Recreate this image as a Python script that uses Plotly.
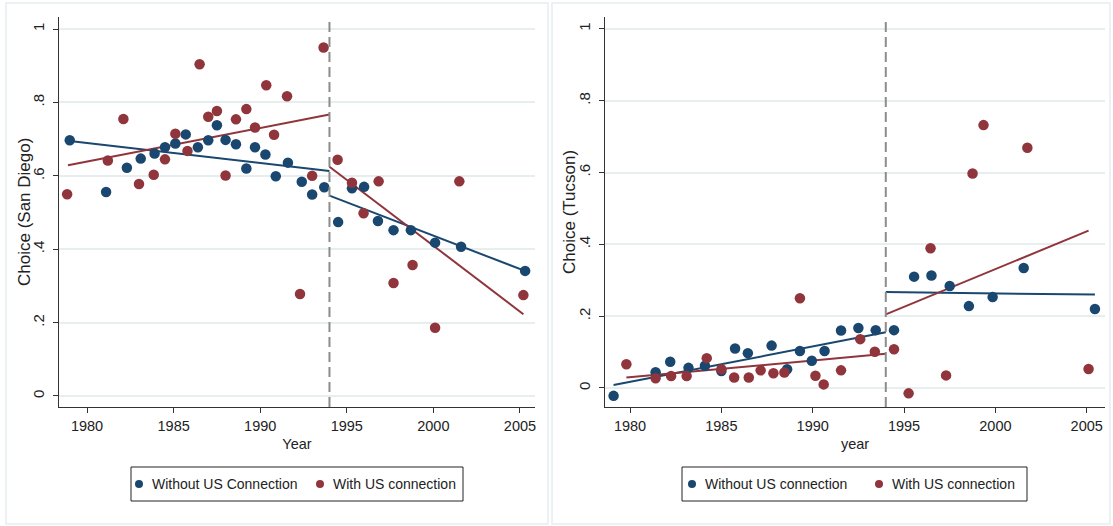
import plotly.graph_objects as go

W, H = 1113, 526
BLUE = "#1a476f"
RED = "#90353b"
GRID = "#e6eef0"

# ---------------- San Diego panel ----------------
sd_blue_year = [1979.0, 1981.1, 1982.3, 1983.1, 1983.9, 1984.5, 1985.1, 1985.7, 1986.4, 1987.0,
                1987.5, 1988.0, 1988.6, 1989.2, 1989.7, 1990.3, 1990.9, 1991.6, 1992.4, 1993.0,
                1993.7, 1994.5, 1995.3, 1996.0, 1996.8, 1997.7, 1998.7, 2000.1, 2001.6, 2005.3]
sd_blue_val = [0.697, 0.556, 0.622, 0.647, 0.661, 0.678, 0.688, 0.713, 0.678, 0.697,
               0.738, 0.698, 0.686, 0.620, 0.678, 0.658, 0.599, 0.636, 0.584, 0.549,
               0.569, 0.474, 0.566, 0.570, 0.477, 0.452, 0.452, 0.418, 0.407, 0.341]
sd_red_year = [1978.85, 1981.2, 1982.1, 1983.0, 1983.85, 1984.5, 1985.1, 1985.8, 1986.5, 1987.0,
               1987.5, 1988.0, 1988.6, 1989.2, 1989.7, 1990.35, 1990.8, 1991.55, 1992.3, 1993.0,
               1993.66, 1994.47, 1995.3, 1995.97, 1996.84, 1997.7, 1998.8, 2000.1, 2001.5, 2005.2]
sd_red_val = [0.550, 0.642, 0.755, 0.578, 0.603, 0.645, 0.715, 0.668, 0.904, 0.761,
              0.777, 0.601, 0.754, 0.782, 0.732, 0.847, 0.712, 0.817, 0.278, 0.600,
              0.950, 0.644, 0.581, 0.498, 0.585, 0.308, 0.357, 0.186, 0.585, 0.275]
# fitted line endpoints
sd_fit_blue_pre_x = [1979.0, 1994.0]
sd_fit_blue_pre_y = [0.695, 0.613]
sd_fit_red_pre_x = [1978.9, 1994.0]
sd_fit_red_pre_y = [0.629, 0.767]
sd_fit_blue_post_x = [1994.0, 2005.4]
sd_fit_blue_post_y = [0.546, 0.339]
sd_fit_red_post_x = [1994.0, 2005.2]
sd_fit_red_post_y = [0.625, 0.223]

# ---------------- Tucson panel ----------------
tu_blue_year = [1979.1, 1981.4, 1982.2, 1983.2, 1984.1, 1985.0, 1985.75, 1986.45, 1987.75, 1988.6,
                1989.3, 1989.95, 1990.65, 1991.55, 1992.5, 1993.45, 1994.45, 1995.55, 1996.5, 1997.5,
                1998.55, 1999.85, 2001.55, 2005.45]
tu_blue_val = [-0.022, 0.044, 0.073, 0.056, 0.062, 0.047, 0.110, 0.097, 0.118, 0.052,
               0.103, 0.076, 0.103, 0.160, 0.167, 0.161, 0.161, 0.310, 0.313, 0.284,
               0.228, 0.253, 0.334, 0.220]
tu_red_year = [1979.8, 1981.4, 1982.25, 1983.1, 1984.2, 1985.0, 1985.7, 1986.5, 1987.15, 1987.85,
               1988.45, 1989.3, 1990.15, 1990.6, 1991.55, 1992.6, 1993.4, 1994.45, 1995.25, 1996.45,
               1997.3, 1998.75, 1999.35, 2001.75, 2005.1]
tu_red_val = [0.066, 0.027, 0.033, 0.033, 0.083, 0.052, 0.029, 0.029, 0.049, 0.041,
              0.043, 0.250, 0.034, 0.010, 0.049, 0.136, 0.101, 0.108, -0.015, 0.389,
              0.035, 0.597, 0.732, 0.669, 0.053]
tu_fit_blue_pre_x = [1979.1, 1994.0]
tu_fit_blue_pre_y = [0.008, 0.155]
tu_fit_red_pre_x = [1979.8, 1994.0]
tu_fit_red_pre_y = [0.029, 0.095]
tu_fit_blue_post_x = [1994.0, 2005.45]
tu_fit_blue_post_y = [0.267, 0.260]
tu_fit_red_post_x = [1994.0, 2005.1]
tu_fit_red_post_y = [0.205, 0.438]

cutoff_year = 1994
y_ticks = [0, 0.2, 0.4, 0.6, 0.8, 1]
y_tick_labels = ["0", ".2", ".4", ".6", ".8", "1"]
x_ticks = [1980, 1985, 1990, 1995, 2000, 2005]
sd_legend_names = ["Without US Connection", "With US connection"]
tu_legend_names = ["Without US connection", "With US connection"]

fig = go.Figure()

def add_panel(xa, ya, bx, bv, rx, rv, fits, names):
    sfx_x = "x" if xa == 1 else "x%d" % xa
    sfx_y = "y" if ya == 1 else "y%d" % ya
    for fx, fy, col in fits:
        fig.add_trace(go.Scatter(x=fx, y=fy, mode="lines", line=dict(color=col, width=2),
                                 showlegend=False, xaxis=sfx_x, yaxis=sfx_y, hoverinfo="skip"))
    fig.add_trace(go.Scatter(x=bx, y=bv, mode="markers", name=names[0], showlegend=False,
                             marker=dict(color=BLUE, size=10.5), xaxis=sfx_x, yaxis=sfx_y))
    fig.add_trace(go.Scatter(x=rx, y=rv, mode="markers", name=names[1], showlegend=False,
                             marker=dict(color=RED, size=10.5), xaxis=sfx_x, yaxis=sfx_y))

add_panel(1, 1, sd_blue_year, sd_blue_val, sd_red_year, sd_red_val,
          [(sd_fit_blue_pre_x, sd_fit_blue_pre_y, BLUE), (sd_fit_red_pre_x, sd_fit_red_pre_y, RED),
           (sd_fit_blue_post_x, sd_fit_blue_post_y, BLUE), (sd_fit_red_post_x, sd_fit_red_post_y, RED)],
          sd_legend_names)
add_panel(2, 2, tu_blue_year, tu_blue_val, tu_red_year, tu_red_val,
          [(tu_fit_blue_pre_x, tu_fit_blue_pre_y, BLUE), (tu_fit_red_pre_x, tu_fit_red_pre_y, RED),
           (tu_fit_blue_post_x, tu_fit_blue_post_y, BLUE), (tu_fit_red_post_x, tu_fit_red_post_y, RED)],
          tu_legend_names)

def px_x(p):
    return p / W

def px_y(p):
    return 1 - p / H

font = dict(family="Liberation Sans, Arial, sans-serif", color="#222222")

common_x = dict(tickmode="array", tickvals=x_ticks, ticks="outside", ticklen=5, tickcolor="#333",
                showline=True, linecolor="#333", linewidth=1.3, showgrid=False, zeroline=False,
                tickfont=dict(size=14.5, color="#222"), automargin=False)
common_y = dict(tickmode="array", tickvals=y_ticks, ticktext=y_tick_labels, ticks="outside",
                ticklen=5, tickcolor="#333", tickangle=-90, showline=True, linecolor="#333",
                linewidth=1.3, showgrid=True, gridcolor=GRID, gridwidth=1.5, zeroline=False,
                tickfont=dict(size=15, color="#222"), ticklabelstandoff=3, automargin=False)

shapes = [
    dict(type="rect", xref="paper", yref="paper", x0=px_x(6), x1=px_x(548), y0=px_y(524), y1=px_y(3),
         line=dict(color="#e6eef0", width=1.5), layer="below"),
    dict(type="rect", xref="paper", yref="paper", x0=px_x(552), x1=px_x(1110), y0=px_y(524), y1=px_y(3),
         line=dict(color="#e6eef0", width=1.5), layer="below"),
    dict(type="line", xref="x", yref="paper", x0=cutoff_year, x1=cutoff_year,
         y0=px_y(407), y1=px_y(17), line=dict(color="#8c8c8c", width=2, dash="10px,5px")),
    dict(type="line", xref="x2", yref="paper", x0=cutoff_year, x1=cutoff_year,
         y0=px_y(407), y1=px_y(17), line=dict(color="#8c8c8c", width=2, dash="10px,5px")),
]
annotations = []

# legend boxes (drawn by hand to match the Stata layout)
def add_legend(box_l, box_r, m1, m2, names):
    top, bot, mid = 467, 501, 484
    shapes.append(dict(type="rect", xref="paper", yref="paper", x0=px_x(box_l), x1=px_x(box_r),
                       y0=px_y(bot), y1=px_y(top), line=dict(color="#222", width=1),
                       fillcolor="white"))
    for mx, col, name in ((m1, BLUE, names[0]), (m2, RED, names[1])):
        r = 4
        shapes.append(dict(type="circle", xref="paper", yref="paper",
                           x0=px_x(mx - r), x1=px_x(mx + r), y0=px_y(mid + r), y1=px_y(mid - r),
                           fillcolor=col, line=dict(color=col, width=0)))
        annotations.append(dict(text=name, xref="paper", yref="paper", x=px_x(mx + 11), y=px_y(mid),
                                xanchor="left", yanchor="middle", showarrow=False,
                                font=dict(size=14, color="#222")))

add_legend(131, 463, 139, 320, sd_legend_names)
add_legend(682, 1027, 692, 879, tu_legend_names)

# y-axis titles
annotations.append(dict(text="Choice (San Diego)", xref="paper", yref="paper", x=px_x(24), y=px_y(212),
                        textangle=-90, showarrow=False, xanchor="center", yanchor="middle",
                        font=dict(size=17, color="#222")))
annotations.append(dict(text="Choice (Tucson)", xref="paper", yref="paper", x=px_x(569), y=px_y(212),
                        textangle=-90, showarrow=False, xanchor="center", yanchor="middle",
                        font=dict(size=17, color="#222")))

fig.update_layout(
    width=W, height=H, margin=dict(l=0, r=0, t=0, b=0, autoexpand=False),
    paper_bgcolor="white", plot_bgcolor="white", font=font, showlegend=False,
    xaxis=dict(domain=[px_x(59), px_x(535)], range=[1978.38, 2005.87], anchor="y",
               title=dict(text="Year", font=dict(size=14.5), standoff=6), **common_x),
    yaxis=dict(domain=[px_y(407), px_y(17)], range=[-0.03, 1.033], anchor="x", **common_y),
    xaxis2=dict(domain=[px_x(605), px_x(1105)], range=[1978.63, 2006.0], anchor="y2",
                title=dict(text="year", font=dict(size=14.5), standoff=6), **common_x),
    yaxis2=dict(domain=[px_y(407), px_y(17)], range=[-0.053, 1.033], anchor="x2", **common_y),
    shapes=shapes,
    annotations=annotations,
)

fig.write_html("out.html", config={"displayModeBar": False},
               post_script="document.body.style.margin='0';document.body.style.overflow='hidden';")
